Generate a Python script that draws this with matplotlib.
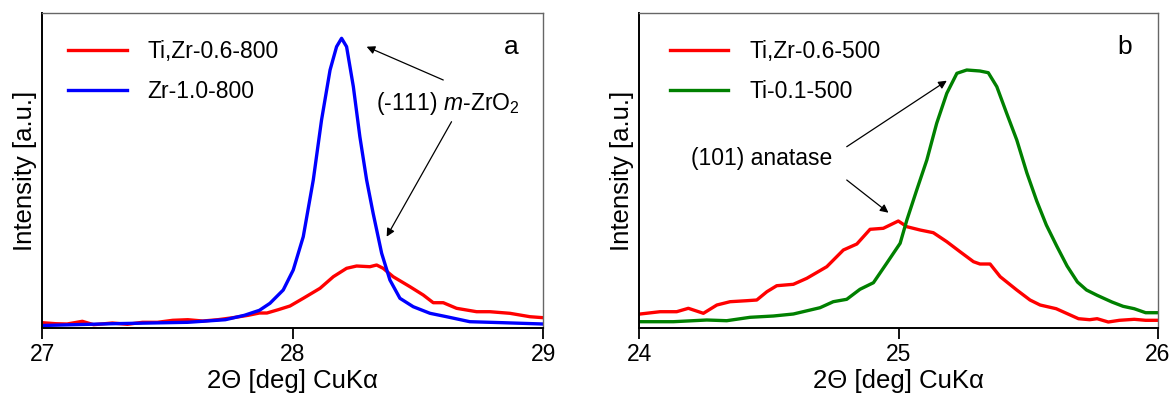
import matplotlib
matplotlib.use("Agg")
import matplotlib.pyplot as plt

plt.rcParams['font.family'] = ['Liberation Sans', 'DejaVu Sans']
plt.rcParams['mathtext.fontset'] = 'custom'
plt.rcParams['mathtext.rm'] = 'Liberation Sans'
plt.rcParams['mathtext.it'] = 'Liberation Sans:italic'

# ---- panel a: (-111) m-ZrO2 reflection, intensity in arbitrary units ----
zr_x = [27.000, 27.280, 27.581, 27.731, 27.807, 27.867, 27.909, 27.962, 28.002, 28.042,
        28.082, 28.115, 28.149, 28.175, 28.195, 28.215, 28.242, 28.268, 28.295, 28.321,
        28.355, 28.388, 28.428, 28.481, 28.548, 28.614, 28.707, 28.840, 29.000]
zr_y = [2.5, 4.3, 5.7, 8.3, 12.7, 17.7, 24.7, 38.0, 58.0, 91.3,
        148.0, 208.0, 258.0, 281.3, 289.7, 281.3, 241.3, 191.3, 148.0, 114.7,
        74.7, 48.0, 29.7, 21.3, 14.7, 11.3, 6.3, 5.3, 4.0]

tizr800_x = [27.000, 27.054, 27.099, 27.160, 27.205, 27.280, 27.340, 27.400, 27.460, 27.521,
             27.581, 27.641, 27.701, 27.761, 27.822, 27.867, 27.897, 27.942, 27.989, 28.042,
             28.109, 28.162, 28.215, 28.255, 28.308, 28.335, 28.361, 28.401, 28.468, 28.521,
             28.561, 28.601, 28.654, 28.734, 28.787, 28.867, 28.947, 29.000]
tizr800_y = [5.3, 4.3, 4.0, 6.7, 3.3, 5.0, 3.7, 5.7, 5.7, 7.7,
             8.3, 7.0, 8.3, 10.3, 12.7, 15.0, 15.0, 18.3, 22.0, 29.7,
             39.7, 51.3, 59.7, 62.0, 61.3, 63.0, 59.7, 51.3, 41.3, 33.0,
             25.3, 25.3, 19.7, 16.3, 16.3, 14.7, 11.3, 10.3]

# ---- panel b: (101) anatase reflection ----
tizr500_x = [24.003, 24.080, 24.144, 24.189, 24.247, 24.299, 24.350, 24.414, 24.453, 24.492,
             24.530, 24.594, 24.646, 24.723, 24.787, 24.839, 24.890, 24.941, 24.999, 25.032,
             25.083, 25.134, 25.186, 25.237, 25.289, 25.314, 25.353, 25.392, 25.456, 25.507,
             25.546, 25.608, 25.651, 25.694, 25.737, 25.766, 25.809, 25.852, 25.909, 25.953,
             26.000]
tizr500_y = [14.0, 16.3, 16.3, 19.7, 14.7, 23.0, 26.3, 27.3, 28.0, 36.3,
             42.3, 43.7, 49.7, 61.3, 78.0, 84.0, 98.7, 99.7, 107.0, 101.3,
             98.0, 95.3, 86.3, 76.3, 66.3, 64.0, 64.0, 51.3, 38.0, 28.0,
             23.0, 19.3, 14.3, 9.3, 8.3, 9.3, 6.0, 7.7, 8.7, 7.7,
             7.7]

ti500_x = [24.003, 24.131, 24.260, 24.337, 24.427, 24.517, 24.594, 24.697, 24.748, 24.800,
           24.851, 24.903, 24.954, 25.006, 25.032, 25.070, 25.109, 25.147, 25.186, 25.225,
           25.263, 25.314, 25.346, 25.379, 25.417, 25.456, 25.495, 25.533, 25.570, 25.610,
           25.650, 25.690, 25.725, 25.766, 25.823, 25.866, 25.909, 25.953, 26.000]
ti500_y = [6.3, 6.3, 8.0, 7.3, 10.7, 12.0, 14.0, 20.3, 26.3, 28.7,
           38.7, 45.3, 64.7, 84.7, 108.0, 138.0, 168.0, 204.7, 234.7, 254.7,
           258.0, 257.0, 255.3, 241.3, 214.7, 188.0, 155.0, 127.0, 103.0, 82.0,
           62.0, 46.0, 38.0, 32.7, 26.0, 21.7, 19.3, 15.3, 15.3]

fig = plt.figure(figsize=(11.74, 3.96), dpi=100)
ax1 = fig.add_axes([0.0360, 0.1717, 0.4267, 0.7947])
ax2 = fig.add_axes([0.5446, 0.1717, 0.4416, 0.7947])

lw = 2.4
ax1.plot(tizr800_x, tizr800_y, color='#ff0000', lw=lw, label='Ti,Zr-0.6-800')
ax1.plot(zr_x, zr_y, color='#0000ff', lw=lw, label='Zr-1.0-800')
ax2.plot(tizr500_x, tizr500_y, color='#ff0000', lw=lw, label='Ti,Zr-0.6-500')
ax2.plot(ti500_x, ti500_y, color='#008000', lw=lw, label='Ti-0.1-500')

ax1.set_xlim(27, 29)
ax1.set_xticks([27, 28, 29])
ax2.set_xlim(24, 26)
ax2.set_xticks([24, 25, 26])

for ax, letter, lx in [(ax1, 'a', 0.052), (ax2, 'b', 0.059)]:
    ax.set_ylim(0, 314.7)
    ax.set_yticks([])
    ax.tick_params(axis='x', direction='out', length=8, width=1.3, labelsize=16.5, pad=3)
    ax.spines['left'].set_linewidth(1.4)
    ax.spines['bottom'].set_linewidth(1.4)
    for s in ['top', 'right']:
        ax.spines[s].set_color('#666666')
        ax.spines[s].set_linewidth(1.0)
    ax.set_xlabel('2\u0398 [deg] CuK\u03b1', fontsize=18.5, labelpad=2)
    ax.set_ylabel('Intensity [a.u.]', fontsize=18.5, labelpad=4)
    ax.text(0.95, 0.893, letter, transform=ax.transAxes, fontsize=19,
            ha='right', va='center')
    ax.legend(loc='upper left', bbox_to_anchor=(lx, 0.915), frameon=False,
              fontsize=16.5, handlelength=2.55, handletextpad=0.9,
              labelspacing=0.72, borderpad=0, borderaxespad=0)

arrow = dict(arrowstyle='-|>', color='black', lw=0.9, mutation_scale=12,
             shrinkA=0, shrinkB=0)

ax1.text(28.621, 224.7, r'(-111) $\mathit{m}$-ZrO$_2$', fontsize=16.5,
         ha='center', va='center')
ax1.annotate('', xy=(28.295, 281.3), xytext=(28.601, 248.0), arrowprops=arrow)
ax1.annotate('', xy=(28.375, 91.3), xytext=(28.634, 206.3), arrowprops=arrow)

ax2.text(24.472, 169.7, '(101) anatase', fontsize=16.5, ha='center', va='center')
ax2.annotate('', xy=(25.186, 247.3), xytext=(24.800, 181.3), arrowprops=arrow)
ax2.annotate('', xy=(24.961, 115.3), xytext=(24.800, 148.0), arrowprops=arrow)

fig.savefig('out.png', dpi=100)
